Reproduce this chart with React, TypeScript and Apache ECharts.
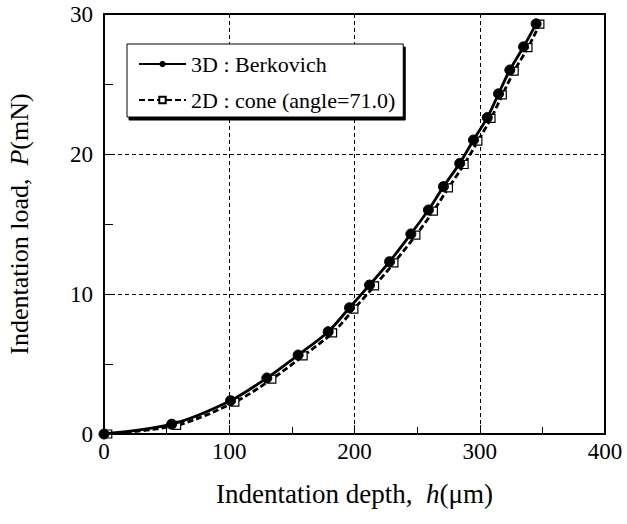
import React, { useEffect, useRef } from "react";
import * as echarts from "echarts";

const seriesNames = ["3D : Berkovich", "2D : cone (angle=71.0)"];

const berkovichDepth = [0, 54, 101, 130, 155, 179, 196, 212, 228, 245, 259, 271, 284, 295, 306, 315, 324, 335, 345];
const berkovichLoad = [0, 0.7, 2.38, 4.0, 5.64, 7.31, 9.02, 10.64, 12.31, 14.29, 16.0, 17.67, 19.33, 21.0, 22.6, 24.3, 26.0, 27.66, 29.3];

const coneDepth = [3, 58, 104.5, 134, 159, 182.5, 199.5, 216, 231.5, 249, 263, 275, 287.5, 298.5, 309, 318, 327.5, 338.5, 348];
const coneLoad = [0, 0.62, 2.28, 3.92, 5.58, 7.22, 8.92, 10.58, 12.22, 14.2, 15.92, 17.58, 19.25, 20.92, 22.55, 24.22, 25.92, 27.6, 29.28];

const xTicks = [0, 100, 200, 300, 400];
const yTicks = [0, 10, 20, 30];

const FONT = "Liberation Serif, Times New Roman, serif";

export default function App() {
  const ref = useRef<HTMLDivElement>(null);
  useEffect(() => {
    if (!ref.current) return;
    const chart = echarts.init(ref.current, undefined, { renderer: "svg" });
    const d3 = berkovichDepth.map((x, i) => [x, berkovichLoad[i]]);
    const d2 = coneDepth.map((x, i) => [x, coneLoad[i]]);
    chart.setOption({
      animation: false,
      backgroundColor: "#fff",
      textStyle: { fontFamily: FONT },
      grid: {
        left: 104,
        top: 14,
        right: 22,
        bottom: 90,
        outerBoundsMode: "none",
        containLabel: false,
        show: true,
        borderColor: "#000",
        borderWidth: 2,
        backgroundColor: "transparent",
      },
      legend: {
        orient: "vertical",
        left: 127,
        top: 44,
        data: seriesNames,
        itemWidth: 47,
        itemHeight: 8,
        itemGap: 14,
        padding: [9, 8, 6, 11],
        borderColor: "#000",
        borderWidth: 1,
        backgroundColor: "#fff",
        shadowColor: "#000",
        shadowBlur: 0,
        shadowOffsetX: 2,
        shadowOffsetY: 3,
        textStyle: { fontFamily: FONT, fontSize: 22, color: "#000" },
      },
      xAxis: {
        type: "value",
        min: 0,
        max: 400,
        interval: 100,
        name: "{n|Indentation depth,  }{i|h}{n|(μm)}",
        nameLocation: "middle",
        nameGap: 46,
        nameTextStyle: {
          fontFamily: FONT,
          rich: {
            n: { fontFamily: FONT, fontSize: 27, color: "#000" },
            i: { fontFamily: FONT, fontSize: 27, color: "#000", fontStyle: "italic" },
          },
        },
        axisLine: { show: true, lineStyle: { color: "#000", width: 2 } },
        axisTick: { show: true, inside: true, length: 9, lineStyle: { color: "#000", width: 1 } },
        minorTick: { show: true, splitNumber: 2, length: 7, lineStyle: { color: "#000", width: 1 } },
        axisLabel: {
          fontFamily: FONT,
          fontSize: 23,
          color: "#000",
          margin: 6,
          formatter: (v: number) => (xTicks.includes(v) ? String(v) : ""),
        },
        splitLine: { show: true, lineStyle: { color: "#000", width: 1, type: [4, 3] } },
      },
      yAxis: {
        type: "value",
        min: 0,
        max: 30,
        interval: 10,
        name: "{n|Indentation load,  }{i|P}{n|(mN)}",
        nameLocation: "middle",
        nameGap: 72,
        nameRotate: 90,
        nameTextStyle: {
          fontFamily: FONT,
          rich: {
            n: { fontFamily: FONT, fontSize: 26, color: "#000" },
            i: { fontFamily: FONT, fontSize: 26, color: "#000", fontStyle: "italic" },
          },
        },
        axisLine: { show: true, lineStyle: { color: "#000", width: 2 } },
        axisTick: { show: true, inside: true, length: 9, lineStyle: { color: "#000", width: 1 } },
        minorTick: { show: true, splitNumber: 2, length: 9, lineStyle: { color: "#000", width: 1 } },
        axisLabel: {
          fontFamily: FONT,
          fontSize: 23,
          color: "#000",
          margin: 11,
          formatter: (v: number) => (yTicks.includes(v) ? String(v) : ""),
        },
        splitLine: { show: true, lineStyle: { color: "#000", width: 1, type: [4, 3] } },
      },
      series: [
        {
          name: seriesNames[1],
          type: "line",
          data: d2,
          smooth: 0.3,
          symbol: "rect",
          symbolSize: 8,
          itemStyle: { color: "#fff", borderColor: "#000", borderWidth: 1.2 },
          lineStyle: { color: "#000", width: 2.8, type: [6, 3] },
          z: 2,
        },
        {
          name: seriesNames[0],
          type: "line",
          data: d3,
          smooth: 0.3,
          symbol: "circle",
          symbolSize: 10,
          itemStyle: { color: "#000", borderColor: "#000" },
          lineStyle: { color: "#000", width: 2.8 },
          z: 3,
        },
      ],
    });
    return () => chart.dispose();
  }, []);
  return (
    <div
      ref={ref}
      style={{ position: "absolute", left: 0, top: 0, width: 627, height: 524 }}
    />
  );
}
